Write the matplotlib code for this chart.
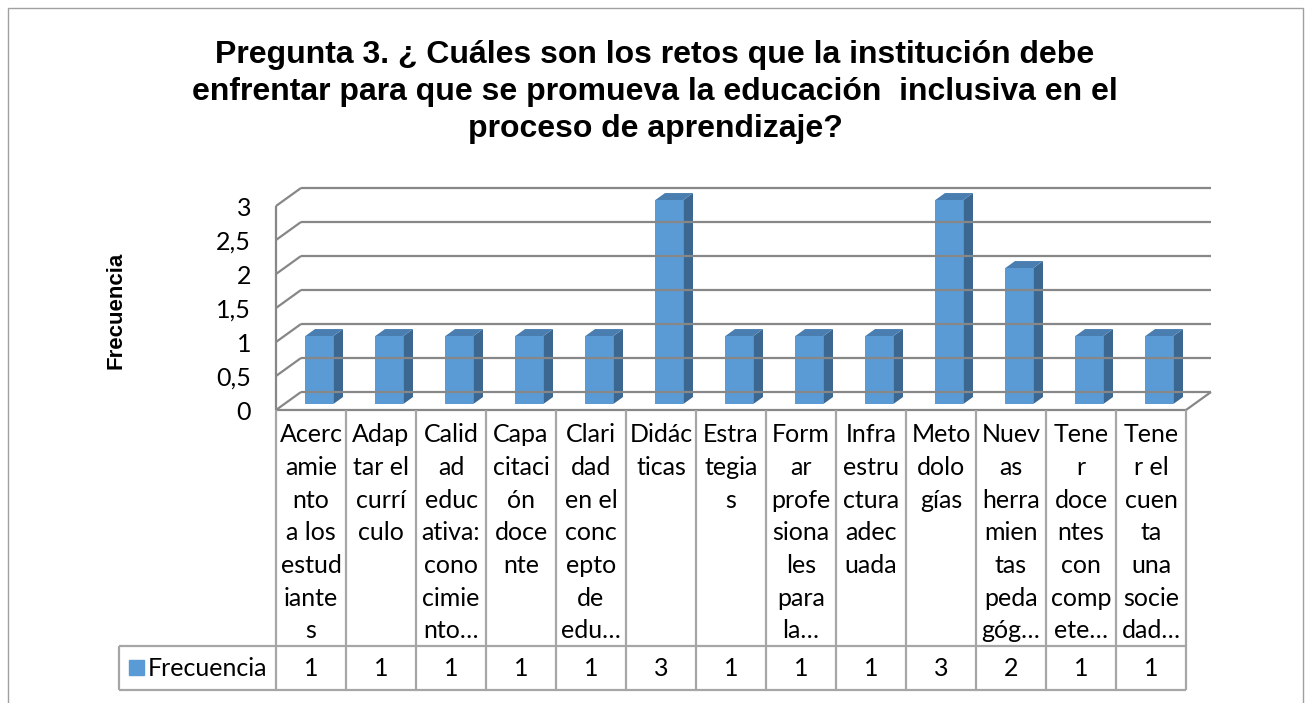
import matplotlib
matplotlib.use("Agg")
import matplotlib.pyplot as plt
from matplotlib.patches import Rectangle

TITLE_LINES = [
    "Pregunta 3. ¿ Cuáles son los retos que la institución debe",
    "enfrentar para que se promueva la educación  inclusiva en el",
    "proceso de aprendizaje?",
]
Y_LABEL = "Frecuencia"
SERIES = "Frecuencia"
# category labels as wrapped (and cut) in the data table
CATEGORIES = [
    "Acerc\namie\nnto\na los\nestud\niante\ns",
    "Adap\ntar el\ncurrí\nculo",
    "Calid\nad\neduc\nativa:\ncono\ncimie\nnto…",
    "Capa\ncitaci\nón\ndoce\nnte",
    "Clari\ndad\nen el\nconc\nepto\nde\nedu…",
    "Didác\nticas",
    "Estra\ntegia\ns",
    "Form\nar\nprofe\nsiona\nles\npara\nla…",
    "Infra\nestru\nctura\nadec\nuada",
    "Meto\ndolo\ngías",
    "Nuev\nas\nherra\nmien\ntas\npeda\ngóg…",
    "Tene\nr\ndoce\nntes\ncon\ncomp\nete…",
    "Tene\nr el\ncuen\nta\nuna\nsocie\ndad…",
]
VALUES = [1, 1, 1, 1, 1, 3, 1, 1, 1, 3, 2, 1, 1]
Y_TICKS = [0, 0.5, 1, 1.5, 2, 2.5, 3]
Y_TICK_LABELS = ["0", "0,5", "1", "1,5", "2", "2,5", "3"]

W, H = 1310, 703
FRONT = "#5B9BD5"
SIDE = "#3B6791"
TOP = "#4A7EB1"
GRID = "#878787"
TABLE = "#A6A6A6"
BODY_FONT = "Lato"
TITLE_FONT = "Liberation Sans"
BODY_SIZE = 18

# oblique depth of the 3-D floor in data units (x: categories, y: values)
DX, DY = 25 / 70, 18 / 68
BAR_W = 0.4
BAR_D0, BAR_D1 = 0.33, 0.72
CELL_H, VAL_H = 236, 44
LINE_STEP = 32.6


def px_box(left, top, right, bottom):
    return [left / W, 1 - bottom / H, (right - left) / W, (bottom - top) / H]


def line(a, xs, ys, color=GRID, lw=1.6):
    a.plot(xs, ys, color=color, lw=lw, clip_on=False, solid_capstyle="butt")


fig = plt.figure(figsize=(W / 100, H / 100), dpi=100)
n = len(CATEGORIES)
xmax = (1216 - 276) / 70

# 3-D plot area
ax = fig.add_axes(px_box(276, 180, 1216, 410))
ax.set_xlim(0, xmax)
ax.set_ylim(0, (410 - 180) / 68)
for v in Y_TICKS:
    line(ax, [DX, n + DX], [v + DY, v + DY])
    line(ax, [0, DX], [v, v + DY])
line(ax, [0, 0], [0, Y_TICKS[-1]])
line(ax, [0, n], [0, 0])
line(ax, [n, n + DX], [0, DY])

ddx = (BAR_D1 - BAR_D0) * DX
ddy = (BAR_D1 - BAR_D0) * DY
for i, v in enumerate(VALUES):
    x0 = i + 0.5 - BAR_W / 2 + BAR_D0 * DX
    y0 = BAR_D0 * DY
    x1 = x0 + BAR_W
    ax.fill([x0, x1, x1, x0], [y0, y0, y0 + v, y0 + v], color=FRONT, lw=0, clip_on=False)
    ax.fill([x1, x1 + ddx, x1 + ddx, x1], [y0, y0 + ddy, y0 + v + ddy, y0 + v],
            color=SIDE, lw=0, clip_on=False)
    ax.fill([x0, x1, x1 + ddx, x0 + ddx], [y0 + v, y0 + v, y0 + v + ddy, y0 + v + ddy],
            color=TOP, lw=0, clip_on=False)

ax.set_xticks([])
ax.set_yticks(Y_TICKS, Y_TICK_LABELS)
ax.tick_params(axis="y", length=0, pad=18, labelsize=BODY_SIZE)
for lab in ax.get_yticklabels():
    lab.set_fontfamily(BODY_FONT)
for s in ax.spines.values():
    s.set_visible(False)
ax.patch.set_visible(False)

# data table under the plot
tax = fig.add_axes(px_box(276, 410, 1216, 690))
tax.set_xlim(0, xmax)
tax.set_ylim(CELL_H + VAL_H, 0)
tax.axis("off")
leg_x = (119 - 276) / 70
for k in range(n + 1):
    line(tax, [k, k], [0, CELL_H + VAL_H], color=TABLE)
line(tax, [leg_x, n], [CELL_H, CELL_H], color=TABLE)
line(tax, [leg_x, n], [CELL_H + VAL_H, CELL_H + VAL_H], color=TABLE)
line(tax, [leg_x, leg_x], [CELL_H, CELL_H + VAL_H], color=TABLE)

for i, (cat, v) in enumerate(zip(CATEGORIES, VALUES)):
    for j, part in enumerate(cat.split("\n")):
        tax.text(i + 0.5, 25 + LINE_STEP * j, part, ha="center", va="center",
                 fontsize=BODY_SIZE, family=BODY_FONT)
    tax.text(i + 0.5, CELL_H + VAL_H / 2, str(v), ha="center", va="center",
             fontsize=BODY_SIZE, family=BODY_FONT)

tax.add_patch(Rectangle((-2.1, CELL_H + 14), 15 / 70, 15, color=FRONT, clip_on=False))
tax.text(-1.83, CELL_H + VAL_H / 2, SERIES, ha="left", va="center",
         fontsize=BODY_SIZE, family=BODY_FONT)

fig.text(116 / W, 1 - 310 / H, Y_LABEL, rotation=90, ha="center", va="center",
         fontsize=16, fontweight="bold", family=TITLE_FONT)
for j, t in enumerate(TITLE_LINES):
    fig.text(0.5, 1 - (63 + 37 * j) / H, t, ha="center", va="baseline",
             fontsize=23, fontweight="bold", family=TITLE_FONT)

fig.add_artist(Rectangle((8 / W, -0.1), 1295 / W, 1.1 - 8 / H, transform=fig.transFigure,
                         fill=False, ec="#A0A0A0", lw=1))

fig.savefig("out.png", dpi=100)
